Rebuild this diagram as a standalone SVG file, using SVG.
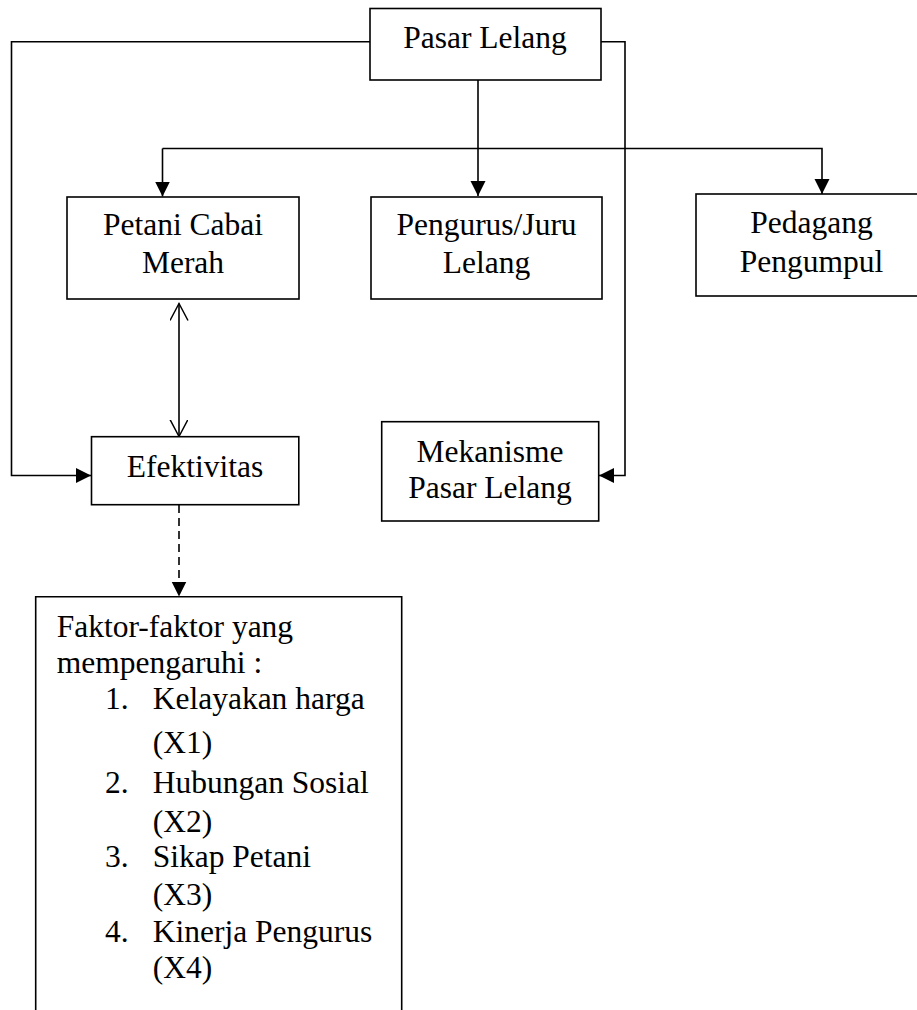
<svg xmlns="http://www.w3.org/2000/svg" width="917" height="1010" viewBox="0 0 917 1010">
<style>
.box{fill:#fff;stroke:#000;stroke-width:1.6}
.ln{fill:none;stroke:#000;stroke-width:1.6}
text{font-family:"Liberation Serif","Times New Roman",serif;font-size:31.5px;fill:#000}
.c{text-anchor:middle}
</style>
<defs>
<marker id="tri" markerUnits="userSpaceOnUse" markerWidth="16" markerHeight="16" refX="15" refY="7.5" orient="auto">
<path d="M0,0 L15,7.5 L0,15 Z" fill="#000"/>
</marker>
<marker id="open" markerUnits="userSpaceOnUse" markerWidth="20" markerHeight="22" refX="17" refY="9" orient="auto-start-reverse">
<path d="M0,0 L17,9 L0,18" fill="none" stroke="#000" stroke-width="1.5"/>
</marker>
</defs>
<rect width="917" height="1010" fill="#fff"/>
<g id="connectors">
<path class="ln" d="M370,41.7 H11.5 V475.5 H91" marker-end="url(#tri)"/>
<path class="ln" d="M601,41.7 H625 V475.5 H599" marker-end="url(#tri)"/>
<path class="ln" d="M478,80 V196" marker-end="url(#tri)"/>
<path class="ln" d="M162.5,148.5 H822 V194" marker-end="url(#tri)"/>
<path class="ln" d="M162.5,148.5 V196.5" marker-end="url(#tri)"/>
<path class="ln" d="M179,303.5 V436.5" marker-start="url(#open)" marker-end="url(#open)"/>
<path class="ln" d="M179,505 V596.5" stroke-dasharray="8,5" marker-end="url(#tri)"/>
</g>
<g id="pasar-lelang">
<rect class="box" x="370" y="8.5" width="231" height="71.5"/>
<text class="c" x="485" y="48.3">Pasar Lelang</text>
</g>
<g id="petani">
<rect class="box" x="67" y="197" width="232" height="102"/>
<text class="c" x="183" y="235">Petani Cabai</text>
<text class="c" x="183" y="273.3">Merah</text>
</g>
<g id="pengurus">
<rect class="box" x="371" y="197" width="231" height="102"/>
<text class="c" x="486.5" y="235">Pengurus/Juru</text>
<text class="c" x="486.5" y="273.3">Lelang</text>
</g>
<g id="pedagang">
<rect class="box" x="696" y="194" width="231" height="102"/>
<text class="c" x="811.5" y="233">Pedagang</text>
<text class="c" x="811.5" y="271.5">Pengumpul</text>
</g>
<g id="efektivitas">
<rect class="box" x="91.5" y="436.7" width="207.3" height="68"/>
<text class="c" x="195" y="476.7">Efektivitas</text>
</g>
<g id="mekanisme">
<rect class="box" x="381.7" y="421.7" width="217" height="99.3"/>
<text class="c" x="490" y="461.7">Mekanisme</text>
<text class="c" x="490" y="498">Pasar Lelang</text>
</g>
<g id="faktor">
<path class="ln" d="M35.7,1012 V596.7 H401.7 V1012"/>
<text x="56.7" y="637">Faktor-faktor yang</text>
<text x="56.7" y="673">mempengaruhi :</text>
<text x="105" y="709">1.</text>
<text x="152.7" y="709">Kelayakan harga</text>
<text x="152.7" y="753">(X1)</text>
<text x="105" y="793">2.</text>
<text x="152.7" y="793">Hubungan Sosial</text>
<text x="152.7" y="832">(X2)</text>
<text x="105" y="867">3.</text>
<text x="152.7" y="867">Sikap Petani</text>
<text x="152.7" y="905">(X3)</text>
<text x="105" y="942">4.</text>
<text x="152.7" y="942">Kinerja Pengurus</text>
<text x="152.7" y="978">(X4)</text>
</g>
</svg>
